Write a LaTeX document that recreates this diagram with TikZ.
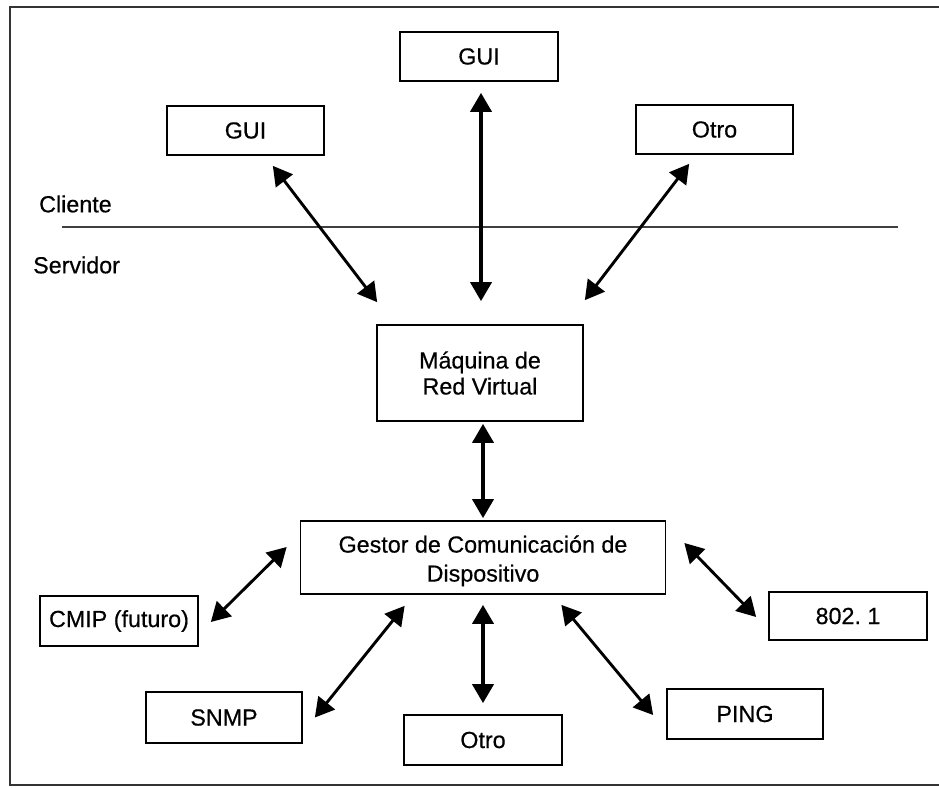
\documentclass[tikz,border=0pt]{standalone}
\usepackage{fontspec}
\setmainfont{Liberation Sans}
\newfontfamily\diagfont{Liberation Sans}[FakeBold=0.5]
\usetikzlibrary{arrows.meta,calc}

\tikzset{
  box/.style={draw=black, line width=1.7pt, minimum height=#1, inner sep=0pt,
              align=center, font=\diagfont\fontsize{23.3}{26}\selectfont},
  box/.default=49pt,
  lbl/.style={anchor=west, inner sep=0pt, font=\diagfont\fontsize{23.3}{26}\selectfont},
  link/.style={line width=2.9pt, {Triangle[length=19pt,width=21pt]}-{Triangle[length=19pt,width=21pt]}},
  linkbold/.style={link, line width=3.8pt},
}

\begin{document}
\begin{tikzpicture}[x=1pt, y=-1pt]
  \useasboundingbox (0,0) rectangle (939,787);

  % frame (open on the right)
  \draw[line width=1.6pt, black!80] (939,7) -- (10,7) -- (10,785) -- (939,785);

  % client / server divider
  \draw[line width=1.2pt, black!75] (62,227) -- (898,227);
  \node[lbl] (cliente) at (39,204) {Cliente};
  \node[lbl] (servidor) at (33,265) {Servidor};

  % client side
  \node[box, minimum width=157pt] (guiL)  at (245.5,130.5) {GUI};
  \node[box, minimum width=158pt] (guiT)  at (479,56.5)   {GUI};
  \node[box, minimum width=157pt] (otroT) at (714.5,129.5) {Otro};

  % server side
  \node[box=96pt, minimum width=206pt] (vm) at (480,373) {Máquina de\\Red Virtual};
  \node[box=73pt, minimum width=365pt] (gestor) at (483,557.5)
    {\rule{0pt}{24pt}Gestor de Comunicación de\\[3pt]Dispositivo};

  % protocols
  \node[box=50pt, minimum width=158pt] (cmip)  at (119,621)   {CMIP (futuro)};
  \node[box=51pt, minimum width=156pt] (snmp)  at (224,717.5) {SNMP};
  \node[box=50pt, minimum width=158pt] (otroB) at (483,740)   {Otro};
  \node[box=48pt, minimum width=158pt] (p8021) at (848,616)   {802.~1};
  \node[box=50pt, minimum width=156pt] (ping)  at (745,714)   {PING};

  % connectors
  \draw[link] ($(guiL.south east)+(-52,10)$) -- ($(vm.north west)+(1,-22)$);
  \draw[linkbold] ($(guiT.south)+(2,11)$) -- ($(vm.north)+(1,-23)$);
  \draw[link] ($(otroT.south west)+(54,9)$) -- ($(vm.north east)+(1,-24)$);
  \draw[linkbold] ($(vm.south)+(3,2)$) -- ($(gestor.north)+(0,-2)$);

  \draw[link] ($(gestor.west)+(-13,-10.5)$) -- ($(cmip.east)+(12,1)$);
  \draw[link] ($(gestor.south west)+(105,11)$) -- ($(snmp.east)+(12,0)$);
  \draw[linkbold] ($(gestor.south)+(0,10)$) -- ($(otroB.north)+(0,-11)$);
  \draw[link] ($(gestor.east)+(18,-14.5)$) -- ($(p8021.west)+(-12,1)$);
  \draw[link] ($(gestor.south east)+(-105,10)$) -- ($(ping.west)+(-13,1)$);
\end{tikzpicture}
\end{document}
